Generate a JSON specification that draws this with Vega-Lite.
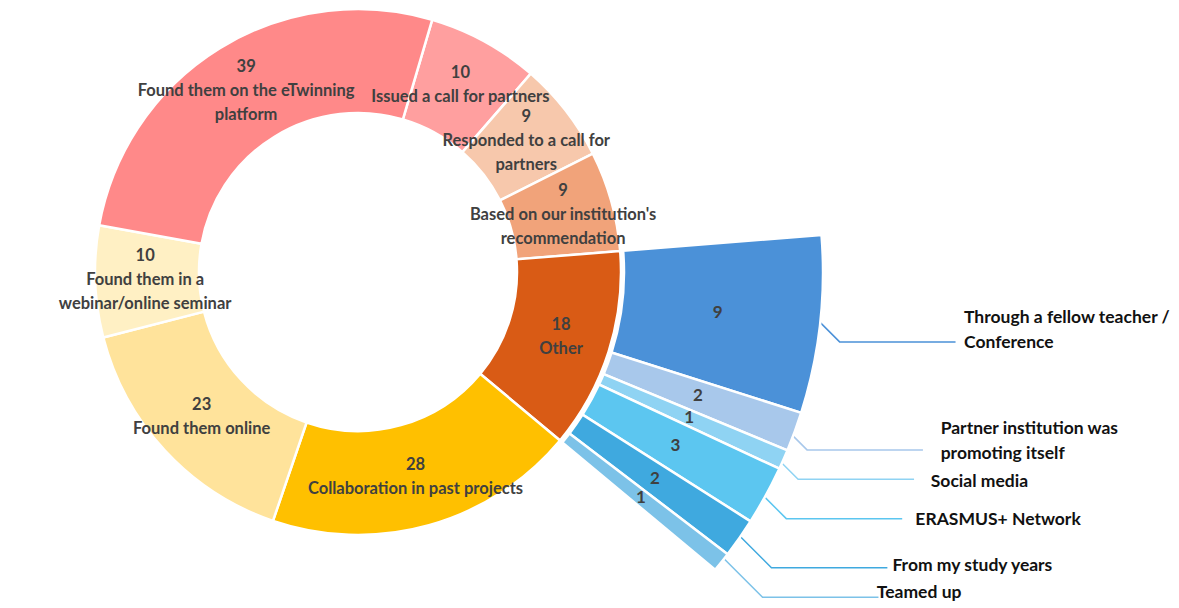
{
  "$schema": "https://vega.github.io/schema/vega-lite/v6.json",
  "width": 716,
  "height": 544,
  "padding": 0,
  "background": "white",
  "config": {
    "view": {"stroke": null},
    "text": {"font": "Lato", "fontSize": 16.5, "fontWeight": "bold", "lineHeight": 24, "lineBreak": "\n"}
  },
  "datasets": {
    "sources": [
      {"source": "Issued a call for partners", "n": 10},
      {"source": "Responded to a call for\npartners", "n": 9},
      {"source": "Based on our institution's\nrecommendation", "n": 9},
      {"source": "Other", "n": 18},
      {"source": "Collaboration in past projects", "n": 28},
      {"source": "Found them online", "n": 23},
      {"source": "Found them in a\nwebinar/online seminar", "n": 10},
      {"source": "Found them on the eTwinning\nplatform", "n": 39}
    ],
    "other": [
      {"source": "Through a fellow teacher /\nConference", "n": 9},
      {"source": "Partner institution was\npromoting itself", "n": 2},
      {"source": "Social media", "n": 1},
      {"source": "ERASMUS+ Network", "n": 3},
      {"source": "From my study years", "n": 2},
      {"source": "Teamed up", "n": 1}
    ]
  },
  "resolve": {"scale": {"theta": "independent", "color": "independent"}},
  "layer": [
    {
      "data": {"name": "other"},
      "transform": [
        {"window": [{"op": "row_number", "as": "idx"}]},
        {"stack": "n", "groupby": [], "sort": [{"field": "idx", "order": "ascending"}], "as": ["s0", "s1"]}
      ],
      "mark": {"type": "point", "shape": "M-1,-1L0,0H2.76", "size": 7056, "filled": false, "strokeWidth": 1.5, "opacity": 1},
      "encoding": {
        "x": {"field": "s0", "type": "quantitative", "bin": {"binned": true}, "scale": {"domain": [0, 18], "range": [866.3, 759.6], "nice": false, "zero": false}, "axis": null},
        "x2": {"field": "s1"},
        "y": {"field": "s0", "type": "quantitative", "bin": {"binned": true}, "scale": {"domain": [0, 18], "range": [253.5, 607], "nice": false, "zero": false}, "axis": null},
        "y2": {"field": "s1"},
        "color": {
          "field": "source", "type": "nominal", "legend": null,
          "scale": {
            "domain": ["Through a fellow teacher /\nConference", "Partner institution was\npromoting itself", "Social media", "ERASMUS+ Network", "From my study years", "Teamed up"],
            "range": ["#4B91D8", "#A8C8EB", "#8FD3F3", "#5CC6F0", "#3FA9DF", "#7CC2E8"]
          }
        }
      }
    },
    {
      "data": {"name": "sources"},
      "transform": [{"window": [{"op": "row_number", "as": "idx"}]}],
      "mark": {"type": "arc", "innerRadius": 159, "outerRadius": 263, "stroke": "white", "strokeWidth": 2.5},
      "encoding": {
        "theta": {"field": "n", "type": "quantitative", "stack": true, "scale": {"range": [0.2862, 6.5694]}},
        "order": {"field": "idx", "type": "quantitative"},
        "color": {
          "field": "source", "type": "nominal", "legend": null,
          "scale": {
            "domain": ["Issued a call for partners", "Responded to a call for\npartners", "Based on our institution's\nrecommendation", "Other", "Collaboration in past projects", "Found them online", "Found them in a\nwebinar/online seminar", "Found them on the eTwinning\nplatform"],
            "range": ["#FF9F9F", "#F7C8AC", "#F1A37A", "#D95B15", "#FFC000", "#FFE39B", "#FFF0C4", "#FF8989"]
          }
        }
      }
    },
    {
      "data": {"name": "other"},
      "transform": [{"window": [{"op": "row_number", "as": "idx"}]}],
      "mark": {"type": "arc", "innerRadius": 266, "outerRadius": 465, "stroke": "white", "strokeWidth": 2.5},
      "encoding": {
        "theta": {"field": "n", "type": "quantitative", "stack": true, "scale": {"range": [1.4912, 2.2658]}},
        "order": {"field": "idx", "type": "quantitative"},
        "color": {
          "field": "source", "type": "nominal", "legend": null,
          "scale": {
            "domain": ["Through a fellow teacher /\nConference", "Partner institution was\npromoting itself", "Social media", "ERASMUS+ Network", "From my study years", "Teamed up"],
            "range": ["#4B91D8", "#A8C8EB", "#8FD3F3", "#5CC6F0", "#3FA9DF", "#7CC2E8"]
          }
        }
      }
    },
    {
      "data": {"name": "sources"},
      "transform": [{"window": [{"op": "row_number", "as": "idx"}]}],
      "mark": {"type": "text", "radius": 213, "dy": -24, "color": "#404040"},
      "encoding": {
        "theta": {"field": "n", "type": "quantitative", "stack": true, "scale": {"range": [0.2862, 6.5694]}},
        "order": {"field": "idx", "type": "quantitative"},
        "detail": {"field": "source", "type": "nominal"},
        "text": {"condition": {"test": "indexof(datum.source, '\\n') >= 0", "field": "n", "type": "quantitative"}, "value": ""}
      }
    },
    {
      "data": {"name": "sources"},
      "transform": [{"window": [{"op": "row_number", "as": "idx"}]}],
      "mark": {"type": "text", "radius": 213, "dy": -12, "color": "#404040"},
      "encoding": {
        "theta": {"field": "n", "type": "quantitative", "stack": true, "scale": {"range": [0.2862, 6.5694]}},
        "order": {"field": "idx", "type": "quantitative"},
        "detail": {"field": "source", "type": "nominal"},
        "text": {"condition": {"test": "indexof(datum.source, '\\n') < 0", "field": "n", "type": "quantitative"}, "value": ""}
      }
    },
    {
      "data": {"name": "sources"},
      "transform": [{"window": [{"op": "row_number", "as": "idx"}]}],
      "mark": {"type": "text", "radius": 213, "dy": 0, "color": "#404040"},
      "encoding": {
        "theta": {"field": "n", "type": "quantitative", "stack": true, "scale": {"range": [0.2862, 6.5694]}},
        "order": {"field": "idx", "type": "quantitative"},
        "detail": {"field": "source", "type": "nominal"},
        "text": {"condition": {"test": "indexof(datum.source, '\\n') >= 0", "field": "source", "type": "nominal"}, "value": ""}
      }
    },
    {
      "data": {"name": "sources"},
      "transform": [{"window": [{"op": "row_number", "as": "idx"}]}],
      "mark": {"type": "text", "radius": 213, "dy": 12, "color": "#404040"},
      "encoding": {
        "theta": {"field": "n", "type": "quantitative", "stack": true, "scale": {"range": [0.2862, 6.5694]}},
        "order": {"field": "idx", "type": "quantitative"},
        "detail": {"field": "source", "type": "nominal"},
        "text": {"condition": {"test": "indexof(datum.source, '\\n') < 0", "field": "source", "type": "nominal"}, "value": ""}
      }
    },
    {
      "data": {"name": "other"},
      "transform": [{"window": [{"op": "row_number", "as": "idx"}]}],
      "mark": {"type": "text", "radius": 362, "color": "#404040", "fontSize": 17},
      "encoding": {
        "theta": {"field": "n", "type": "quantitative", "stack": true, "scale": {"range": [1.4912, 2.2658]}},
        "order": {"field": "idx", "type": "quantitative"},
        "detail": {"field": "source", "type": "nominal"},
        "text": {"field": "n", "type": "quantitative"}
      }
    },
    {
      "data": {"name": "other"},
      "transform": [{"window": [{"op": "row_number", "as": "idx"}]}],
      "mark": {"type": "text", "radius": 610, "align": "left", "dy": -24, "color": "#111111", "fontSize": 17.5, "lineHeight": 25},
      "encoding": {
        "theta": {"field": "n", "type": "quantitative", "stack": true, "scale": {"range": [1.5335, 2.1414]}},
        "order": {"field": "idx", "type": "quantitative"},
        "detail": {"field": "source", "type": "nominal"},
        "text": {"condition": {"test": "indexof(datum.source, '\\n') >= 0", "field": "source", "type": "nominal"}, "value": ""}
      }
    },
    {
      "data": {"name": "other"},
      "transform": [{"window": [{"op": "row_number", "as": "idx"}]}],
      "mark": {"type": "text", "radius": 610, "align": "left", "dy": 0, "color": "#111111", "fontSize": 17.5},
      "encoding": {
        "theta": {"field": "n", "type": "quantitative", "stack": true, "scale": {"range": [1.5335, 2.1414]}},
        "order": {"field": "idx", "type": "quantitative"},
        "detail": {"field": "source", "type": "nominal"},
        "text": {"condition": {"test": "indexof(datum.source, '\\n') < 0", "field": "source", "type": "nominal"}, "value": ""}
      }
    }
  ]
}
